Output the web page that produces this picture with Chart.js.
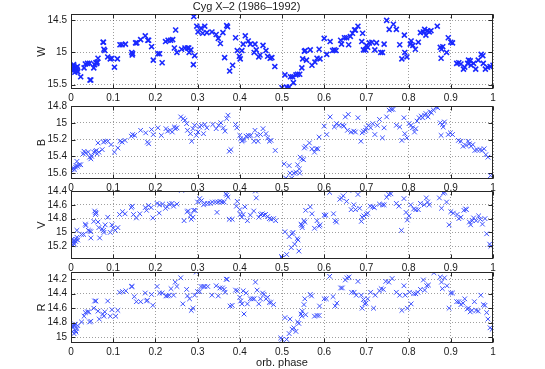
<!DOCTYPE html>
<html><head><meta charset="utf-8">
<script src="https://cdn.jsdelivr.net/npm/chart.js@4/dist/chart.umd.min.js"></script>
<style>
html,body{margin:0;padding:0;background:#fff;width:545px;height:369px;overflow:hidden;position:relative}
canvas{position:absolute;left:0}
</style></head><body>
<canvas id="cW" style="top:0px" width="545" height="105"></canvas>
<canvas id="cB" style="top:96px" width="545" height="99"></canvas>
<canvas id="cV" style="top:181px" width="545" height="94"></canvas>
<canvas id="cR" style="top:262px" width="545" height="107"></canvas>
<script>
// ---- data: [orbital phase, magnitude] ----
const titleText = 'Cyg X\u20132 (1986\u20131992)';
const xLabel = 'orb. phase';
const xTicks = [0,0.1,0.2,0.3,0.4,0.5,0.6,0.7,0.8,0.9,1];
const wTicks = [14.5,15,15.5];
const bTicks = [14.8,15,15.2,15.4,15.6];
const vTicks = [14.4,14.6,14.8,15,15.2];
const rTicks = [14.2,14.4,14.6,14.8,15];

const wPoints = [[0,15.22],[0.004,15.25],[0.007,15.21],[0.008,15.27],[0.011,15.24],[0.012,15.29],[0.014,15.26],[0.016,15.3],[0.006,15.19],[0.003,15.27],[0.009,15.31],[0.015,15.22],
[0.023,15.38],[0.031,15.24],[0.034,15.18],[0.039,15.17],[0.044,15.17],[0.045,15.43],[0.047,15.43],
[0.054,15.24],[0.056,15.19],[0.059,15.16],[0.061,15.17],[0.062,15.15],[0.064,15.09],[0.076,14.84],[0.077,14.84],[0.078,14.95],[0.08,14.97],
[0.087,15.07],[0.093,15.1],[0.097,15.09],[0.103,15.23],[0.11,15.1],[0.116,14.88],[0.121,14.88],[0.129,14.87],
[0.144,15.0],[0.145,15.04],[0.146,15.02],[0.153,14.85],[0.156,14.85],[0.165,14.8],[0.176,14.74],[0.182,14.81],[0.184,14.81],
[0.191,14.91],[0.195,15.12],[0.206,15.02],[0.21,15.02],[0.216,15.16],[0.224,14.83],[0.23,14.81],[0.236,14.81],[0.241,14.8],
[0.248,14.65],[0.245,14.93],[0.251,15.0],[0.262,14.95],[0.27,14.93],[0.276,14.93],[0.279,14.93],[0.28,15.0],[0.284,14.96],
[0.29,15.19],[0.291,14.44],[0.293,15.05],[0.298,14.59],[0.301,14.68],[0.308,14.62],[0.312,14.7],[0.317,14.59],[0.322,14.69],
[0.334,14.68],[0.344,14.72],[0.349,14.78],[0.354,14.86],[0.36,14.69],[0.369,14.58],[0.371,14.6],[0.364,15.08],[0.376,15.29],
[0.383,15.2],[0.39,14.77],[0.394,14.97],[0.399,15.06],[0.401,15.1],[0.405,14.97],[0.408,14.87],[0.413,14.74],[0.42,14.82],
[0.425,14.87],[0.434,15.0],[0.436,14.87],[0.439,14.96],[0.445,15.07],[0.448,15.04],[0.455,14.89],[0.462,14.97],[0.466,15.06],
[0.472,15.09],[0.476,15.08],[0.483,15.22],[0.5,15.55],[0.507,15.35],[0.511,15.54],[0.517,15.54],[0.52,15.38],[0.525,15.38],
[0.527,15.47],[0.533,15.35],[0.537,15.34],[0.542,15.34],[0.547,15.24],[0.549,15.1],[0.553,14.98],[0.555,14.97],[0.558,15.12],
[0.567,14.96],[0.571,15.2],[0.578,15.15],[0.583,15.09],[0.588,14.95],[0.59,15.1],[0.6,14.78],[0.606,15.03],[0.614,14.83],
[0.62,14.97],[0.624,14.96],[0.628,14.97],[0.639,14.81],[0.641,14.87],[0.648,14.77],[0.653,14.77],[0.658,14.88],[0.662,14.75],
[0.667,14.7],[0.672,14.65],[0.674,14.65],[0.68,14.59],[0.689,14.83],[0.691,14.7],[0.693,14.96],[0.698,14.96],[0.7,14.89],
[0.703,14.92],[0.707,14.85],[0.713,14.84],[0.72,14.96],[0.724,14.85],[0.734,15.0],[0.738,15.0],[0.742,14.87],[0.748,14.5],
[0.754,14.64],[0.764,14.56],[0.771,14.64],[0.779,14.88],[0.784,15.1],[0.79,14.73],[0.791,15.0],[0.796,15.07],[0.804,14.87],
[0.806,14.82],[0.81,14.89],[0.816,14.95],[0.823,14.84],[0.828,14.69],[0.835,14.68],[0.838,14.64],[0.841,14.73],[0.845,14.66],
[0.849,14.68],[0.853,14.66],[0.868,14.59],[0.875,14.92],[0.878,14.95],[0.881,14.91],[0.877,15.09],[0.89,15.0],[0.894,14.77],
[0.9,14.84],[0.904,14.85],[0.914,15.17],[0.919,15.16],[0.924,15.18],[0.93,15.26],[0.933,15.23],[0.94,15.17],[0.942,15.12],
[0.946,15.13],[0.948,15.2],[0.954,15.17],[0.959,15.26],[0.965,15.12],[0.972,15.03],[0.976,15.05],[0.977,15.17],[0.982,15.26],
[0.987,15.23],[0.993,15.22],[1.0,15.2]];

const bPoints = [[0,15.56],[0.002,15.55],[0.006,15.54],[0.008,15.56],[0.011,15.53],[0.012,15.51],[0.014,15.46],[0.016,15.52],[0.019,15.5],[0.023,15.5],
[0.029,15.37],[0.031,15.34],[0.035,15.36],[0.041,15.35],[0.044,15.41],[0.047,15.43],[0.049,15.4],
[0.054,15.35],[0.058,15.34],[0.06,15.33],[0.062,15.37],[0.066,15.35],[0.064,15.24],[0.074,15.32],[0.077,15.23],[0.081,15.22],
[0.087,15.22],[0.095,15.26],[0.103,15.35],[0.111,15.3],[0.116,15.22],[0.121,15.23],[0.128,15.21],[0.143,15.16],[0.146,15.14],
[0.151,15.15],[0.165,15.09],[0.177,15.12],[0.181,15.23],[0.184,15.25],[0.191,15.08],[0.195,15.14],[0.206,15.06],[0.214,15.15],
[0.225,15.07],[0.229,15.1],[0.235,15.09],[0.24,15.11],[0.245,15.05],[0.247,15.07],[0.251,15.06],[0.26,14.93],[0.266,14.95],
[0.27,14.97],[0.274,15.01],[0.276,15.09],[0.283,15.13],[0.286,15.22],[0.289,15.07],[0.293,15.03],[0.297,15.15],[0.301,15.11],
[0.305,15.05],[0.309,15.03],[0.314,15.13],[0.317,15.02],[0.322,15.06],[0.336,15.02],[0.344,15.07],[0.35,15.03],[0.355,15.0],
[0.361,15.06],[0.365,15.1],[0.369,14.95],[0.372,14.91],[0.375,15.34],[0.379,15.32],[0.39,15.02],[0.393,15.06],[0.4,15.15],
[0.402,15.19],[0.405,15.22],[0.407,15.21],[0.41,15.2],[0.415,15.16],[0.42,15.15],[0.423,15.16],[0.426,15.15],[0.434,15.22],
[0.436,15.09],[0.441,15.15],[0.443,15.22],[0.449,15.14],[0.455,15.07],[0.462,15.13],[0.466,15.18],[0.47,15.22],[0.474,15.21],
[0.484,15.33],[0.505,15.49],[0.509,15.66],[0.517,15.51],[0.519,15.6],[0.523,15.66],[0.528,15.6],[0.533,15.59],[0.537,15.5],
[0.541,15.55],[0.542,15.6],[0.543,15.41],[0.547,15.43],[0.551,15.44],[0.553,15.3],[0.556,15.28],[0.565,15.24],[0.571,15.31],
[0.577,15.35],[0.581,15.31],[0.585,15.31],[0.588,15.17],[0.6,15.04],[0.606,15.14],[0.614,14.93],[0.624,15.05],[0.629,15.01],
[0.635,15.03],[0.643,15.03],[0.647,15.04],[0.65,14.93],[0.657,14.9],[0.655,15.09],[0.664,15.11],[0.67,15.1],[0.674,15.11],
[0.68,14.94],[0.687,15.22],[0.69,15.12],[0.693,15.1],[0.698,15.09],[0.7,15.06],[0.705,15.03],[0.71,15.06],[0.715,15.01],
[0.72,15.14],[0.726,15.03],[0.731,14.96],[0.738,15.18],[0.742,15.06],[0.748,14.93],[0.754,14.85],[0.759,14.84],[0.763,14.84],
[0.771,15.03],[0.779,15.05],[0.784,15.21],[0.789,14.94],[0.791,15.13],[0.796,15.18],[0.801,15.01],[0.806,15.03],[0.809,15.06],
[0.814,15.11],[0.817,15.07],[0.82,14.98],[0.825,14.94],[0.83,14.92],[0.833,14.94],[0.838,14.91],[0.841,14.89],[0.846,14.93],
[0.851,14.87],[0.854,14.88],[0.859,14.85],[0.865,14.81],[0.869,14.82],[0.875,15.0],[0.88,15.02],[0.885,14.99],[0.877,15.15],
[0.882,15.05],[0.894,15.14],[0.899,15.12],[0.904,15.14],[0.918,15.21],[0.924,15.22],[0.929,15.28],[0.936,15.27],[0.941,15.22],
[0.944,15.25],[0.948,15.28],[0.952,15.26],[0.957,15.33],[0.962,15.32],[0.969,15.32],[0.974,15.33],[0.979,15.31],[0.983,15.38],
[0.988,15.41],[0.994,15.63]];

const vPoints = [[0,15.12],[0.002,15.1],[0.006,15.14],[0.008,15.17],[0.011,15.13],[0.012,15.1],[0.014,15.07],[0.016,15.11],[0.004,15.18],[0.007,15.12],
[0.014,14.97],[0.025,15.03],[0.03,15.03],[0.034,14.88],[0.035,14.9],[0.041,14.97],[0.044,14.98],[0.047,14.99],[0.047,15.08],
[0.054,14.84],[0.056,14.69],[0.058,14.71],[0.06,14.72],[0.058,14.74],[0.064,14.85],[0.066,14.93],[0.068,15.08],[0.074,14.95],
[0.077,14.97],[0.078,15.0],[0.081,14.89],[0.087,14.78],[0.093,15.0],[0.097,14.89],[0.1,14.94],[0.105,14.97],[0.111,14.93],
[0.115,14.74],[0.122,14.7],[0.128,14.73],[0.143,14.64],[0.145,14.62],[0.148,14.74],[0.155,14.79],[0.163,14.73],[0.176,14.64],
[0.179,14.68],[0.184,14.61],[0.19,14.64],[0.194,14.79],[0.204,14.58],[0.21,14.6],[0.217,14.59],[0.224,14.65],[0.228,14.63],
[0.233,14.59],[0.239,14.58],[0.243,14.62],[0.251,14.59],[0.209,14.72],[0.262,14.39],[0.268,14.83],[0.275,14.7],[0.278,14.69],
[0.283,14.75],[0.285,14.81],[0.289,14.78],[0.291,14.68],[0.294,14.68],[0.3,14.56],[0.305,14.51],[0.309,14.54],[0.314,14.6],
[0.317,14.58],[0.324,14.58],[0.33,14.58],[0.335,14.56],[0.342,14.56],[0.348,14.56],[0.353,14.55],[0.358,14.56],[0.363,14.56],
[0.346,14.71],[0.367,14.44],[0.369,14.46],[0.372,14.49],[0.375,14.81],[0.382,14.81],[0.392,14.62],[0.394,14.55],[0.4,14.67],
[0.401,14.74],[0.405,14.78],[0.408,14.74],[0.412,14.63],[0.418,14.83],[0.425,14.75],[0.433,14.69],[0.437,14.4],[0.439,14.5],
[0.445,14.78],[0.449,14.74],[0.453,14.73],[0.457,14.75],[0.461,14.74],[0.466,14.77],[0.47,14.8],[0.474,14.81],[0.48,14.8],
[0.485,14.83],[0.499,15.35],[0.5,15.37],[0.507,14.99],[0.511,15.32],[0.517,15.06],[0.522,15.22],[0.524,15.02],[0.526,15.0],
[0.53,15.17],[0.536,15.09],[0.538,15.11],[0.54,15.27],[0.545,14.88],[0.547,14.9],[0.548,14.93],[0.552,14.83],[0.554,14.85],
[0.556,14.68],[0.567,14.63],[0.571,14.73],[0.577,14.94],[0.583,14.83],[0.588,14.91],[0.59,14.89],[0.6,14.75],[0.604,14.75],
[0.613,14.42],[0.622,14.73],[0.626,14.83],[0.629,14.85],[0.637,14.52],[0.641,14.5],[0.645,14.47],[0.653,14.55],[0.658,14.39],
[0.664,14.67],[0.67,14.6],[0.674,14.67],[0.68,14.45],[0.684,14.65],[0.688,14.84],[0.69,14.78],[0.694,14.76],[0.7,14.74],
[0.703,14.72],[0.709,14.62],[0.715,14.63],[0.719,14.64],[0.731,14.59],[0.738,14.6],[0.742,14.6],[0.748,14.49],[0.753,14.45],
[0.758,14.44],[0.771,14.58],[0.777,14.62],[0.783,14.97],[0.789,14.51],[0.794,14.71],[0.797,14.82],[0.801,14.76],[0.805,14.6],
[0.812,14.66],[0.817,14.67],[0.823,14.67],[0.828,14.58],[0.837,14.6],[0.842,14.5],[0.845,14.56],[0.849,14.6],[0.873,14.5],
[0.878,14.65],[0.882,14.43],[0.886,14.42],[0.89,14.56],[0.896,14.89],[0.9,14.7],[0.906,14.72],[0.915,14.74],[0.919,14.8],
[0.924,14.78],[0.931,14.68],[0.935,14.66],[0.937,14.67],[0.944,14.85],[0.947,14.89],[0.951,14.83],[0.954,14.79],[0.96,14.83],
[0.966,14.76],[0.97,14.81],[0.975,14.88],[0.981,14.8],[0.985,15.02],[0.992,15.17],[0.995,15.2]];

const rPoints = [[0,14.84],[0.002,14.85],[0.006,14.86],[0.008,14.84],[0.011,14.91],[0.012,14.93],[0.014,14.88],[0.016,14.84],[0.004,14.92],[0.007,14.95],[0.009,14.82],
[0.025,14.79],[0.031,14.71],[0.034,14.66],[0.039,14.65],[0.042,14.65],[0.044,14.79],[0.047,14.78],[0.054,14.6],[0.056,14.5],
[0.059,14.5],[0.064,14.64],[0.067,14.75],[0.075,14.68],[0.078,14.71],[0.08,14.65],[0.087,14.5],[0.093,14.71],[0.097,14.62],
[0.106,14.71],[0.111,14.63],[0.115,14.38],[0.122,14.37],[0.13,14.36],[0.143,14.3],[0.145,14.3],[0.15,14.44],[0.155,14.51],
[0.165,14.51],[0.176,14.39],[0.179,14.5],[0.181,14.49],[0.191,14.41],[0.194,14.56],[0.204,14.3],[0.21,14.39],[0.216,14.39],
[0.225,14.43],[0.229,14.43],[0.233,14.42],[0.237,14.33],[0.243,14.42],[0.247,14.24],[0.251,14.3],[0.26,14.18],[0.265,14.54],
[0.274,14.34],[0.276,14.43],[0.281,14.47],[0.285,14.63],[0.289,14.6],[0.293,14.42],[0.297,14.1],[0.3,14.37],[0.305,14.37],
[0.308,14.3],[0.313,14.3],[0.317,14.3],[0.324,14.3],[0.334,14.42],[0.344,14.29],[0.349,14.43],[0.353,14.32],[0.359,14.32],
[0.363,14.34],[0.365,14.38],[0.368,14.2],[0.37,14.2],[0.377,14.57],[0.382,14.56],[0.39,14.35],[0.394,14.36],[0.4,14.45],
[0.402,14.5],[0.405,14.54],[0.408,14.36],[0.41,14.68],[0.415,14.39],[0.418,14.54],[0.425,14.47],[0.43,14.47],[0.434,14.47],
[0.437,14.24],[0.441,14.35],[0.445,14.54],[0.449,14.47],[0.454,14.39],[0.457,14.41],[0.462,14.47],[0.466,14.45],[0.47,14.52],
[0.474,14.52],[0.48,14.55],[0.497,15.01],[0.5,15.03],[0.507,14.73],[0.511,15.03],[0.517,14.95],[0.519,14.75],[0.524,14.89],
[0.528,14.87],[0.533,14.92],[0.537,14.79],[0.54,14.81],[0.545,14.68],[0.547,14.71],[0.548,14.64],[0.552,14.55],[0.554,14.47],
[0.556,14.69],[0.567,14.41],[0.57,14.43],[0.577,14.71],[0.583,14.7],[0.588,14.7],[0.589,14.57],[0.6,14.47],[0.605,14.47],
[0.613,14.16],[0.621,14.44],[0.626,14.57],[0.63,14.53],[0.639,14.32],[0.643,14.32],[0.65,14.21],[0.654,14.18],[0.659,14.17],
[0.665,14.38],[0.671,14.38],[0.676,14.42],[0.68,14.23],[0.688,14.42],[0.69,14.6],[0.693,14.48],[0.696,14.54],[0.699,14.53],
[0.703,14.47],[0.71,14.38],[0.717,14.6],[0.721,14.42],[0.731,14.36],[0.735,14.33],[0.74,14.34],[0.746,14.23],[0.753,14.24],
[0.761,14.19],[0.771,14.38],[0.779,14.42],[0.784,14.63],[0.789,14.29],[0.792,14.42],[0.797,14.6],[0.802,14.38],[0.806,14.54],
[0.812,14.4],[0.817,14.4],[0.822,14.38],[0.828,14.34],[0.835,14.21],[0.838,14.35],[0.843,14.29],[0.847,14.28],[0.86,14.11],
[0.875,14.17],[0.878,14.24],[0.88,14.33],[0.885,14.18],[0.891,14.29],[0.896,14.6],[0.9,14.39],[0.904,14.39],[0.914,14.51],
[0.919,14.51],[0.924,14.55],[0.929,14.53],[0.933,14.47],[0.939,14.61],[0.942,14.6],[0.946,14.65],[0.95,14.63],[0.956,14.51],
[0.96,14.63],[0.965,14.64],[0.971,14.42],[0.977,14.55],[0.981,14.56],[0.985,14.66],[0.988,14.75],[0.993,14.87],[0.998,14.89]];

// ---- rendering ----
Chart.defaults.font.family = "'Liberation Sans', Arial, Helvetica, sans-serif";
Chart.defaults.font.size = 10;
Chart.defaults.color = '#1a1a1a';

const boxPlugin = {
  id: 'box',
  afterDraw(chart) {
    const {ctx, chartArea: ca, scales: {x, y}} = chart;
    const L = Math.round(ca.left) + 0.5, R = Math.round(ca.right) - 0.5;
    const T = Math.round(ca.top) + 0.5, B = Math.round(ca.bottom) - 0.5;
    ctx.save();
    ctx.strokeStyle = '#262626';
    ctx.lineWidth = 1;
    ctx.strokeRect(L, T, R - L, B - T);
    ctx.beginPath();
    x.ticks.forEach(t => {
      const px = Math.round(x.getPixelForValue(t.value)) + 0.5;
      ctx.moveTo(px, B); ctx.lineTo(px, B - 4);
      ctx.moveTo(px, T); ctx.lineTo(px, T + 4);
    });
    y.ticks.forEach(t => {
      const py = Math.round(y.getPixelForValue(t.value)) + 0.5;
      ctx.moveTo(L, py); ctx.lineTo(L + 4, py);
      ctx.moveTo(R, py); ctx.lineTo(R - 4, py);
    });
    ctx.stroke();
    ctx.restore();
  }
};

function makePanel(id, points, yLabel, yMin, yMax, yTicks, opts) {
  const gridColor = 'rgba(0,0,0,0.38)';
  return new Chart(document.getElementById(id), {
    type: 'scatter',
    data: {
      datasets: [{
        data: points.map(([p, m]) => ({x: p, y: m})),
        pointStyle: 'crossRot',
        pointRadius: opts.radius,
        pointHoverRadius: opts.radius,
        borderColor: opts.color,
        pointBorderColor: opts.color,
        pointBorderWidth: opts.lw,
        backgroundColor: 'transparent',
        showLine: false
      }]
    },
    options: {
      responsive: false,
      devicePixelRatio: 1,
      animation: false,
      events: [],
      layout: {padding: {left: 0, right: 52, top: opts.padTop, bottom: 0}},
      plugins: {
        legend: {display: false},
        tooltip: {enabled: false},
        title: opts.title ? {
          display: true, text: opts.title, color: '#1a1a1a',
          font: {size: 11, weight: 'normal', lineHeight: '13px'},
          padding: {top: 0, bottom: 1}
        } : {display: false}
      },
      scales: {
        x: {
          type: 'linear', min: 0, max: 1,
          afterBuildTicks: s => { s.ticks = xTicks.map(v => ({value: v})); },
          ticks: {callback: v => String(v), padding: 3, maxRotation: 0, autoSkip: false},
          grid: {color: gridColor, drawTicks: false, lineWidth: 1},
          border: {display: false, dash: [1, 2]},
          title: opts.xTitle ? {display: true, text: opts.xTitle, color: '#1a1a1a',
            font: {size: 11, lineHeight: '13px'}, padding: {top: 0, bottom: 0}} : {display: false},
          afterFit: s => { s.height = opts.xH; }
        },
        y: {
          type: 'linear', reverse: true, min: yMin, max: yMax,
          afterBuildTicks: s => { s.ticks = yTicks.map(v => ({value: v})); },
          ticks: {callback: v => String(v), padding: 4, autoSkip: false},
          grid: {color: gridColor, drawTicks: false, lineWidth: 1},
          border: {display: false, dash: [1, 2]},
          title: {display: true, text: yLabel, color: '#1a1a1a',
            font: {size: 11, lineHeight: '13px'}, padding: {top: 35, bottom: 0}},
          afterFit: s => { s.width = 71; }
        }
      }
    },
    plugins: [boxPlugin]
  });
}

makePanel('cW', wPoints, 'W', 14.4, 15.57, wTicks,
  {padTop: 0, xH: 16, title: titleText, color: 'rgb(25,40,255)', lw: 1.6, radius: 3.5});
makePanel('cB', bPoints, 'B', 14.8, 15.67, bTicks,
  {padTop: 8, xH: 16, color: 'rgb(60,80,255)', lw: 1, radius: 3.3});
makePanel('cV', vPoints, 'V', 14.4, 15.385, vTicks,
  {padTop: 8, xH: 16, color: 'rgb(60,80,255)', lw: 1, radius: 3.3});
makePanel('cR', rPoints, 'R', 14.1, 15.08, rTicks,
  {padTop: 8, xH: 26, xTitle: xLabel, color: 'rgb(60,80,255)', lw: 1, radius: 3.3});
</script>
</body></html>
